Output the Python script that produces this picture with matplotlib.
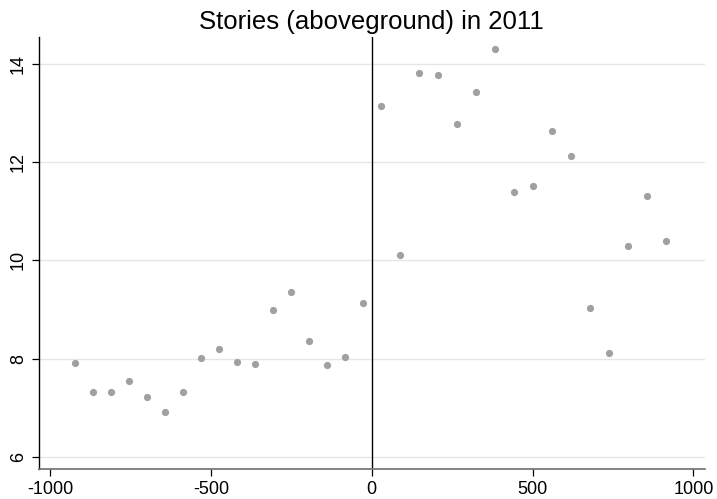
import matplotlib
matplotlib.use("Agg")
import matplotlib.pyplot as plt

plt.rcParams['font.family'] = ['Liberation Sans', 'DejaVu Sans']

# Binned means: distance (x) and average stories (y)
distance = [-922.6, -865.7, -809.7, -753.7, -698.7, -642.7, -586.7, -530.8,
            -474.8, -418.8, -363.8, -307.8, -251.9, -195.9, -139.9, -84.0,
            -28.0, 28.9, 88.0, 147.1, 206.2, 265.2, 324.3, 383.4, 442.5,
            501.6, 560.6, 619.7, 678.8, 737.9, 797.0, 856.0, 915.1]
stories = [7.906, 7.316, 7.316, 7.552, 7.220, 6.915, 7.316, 8.020,
           8.190, 7.926, 7.891, 8.996, 9.362, 8.365, 7.871, 8.034,
           9.126, 13.137, 10.108, 13.815, 13.768, 12.765, 13.416, 14.303, 11.389,
           11.511, 12.629, 12.115, 9.030, 8.109, 10.291, 11.307, 10.399]

x_ticks = [-1000, -500, 0, 500, 1000]
y_ticks = [6, 8, 10, 12, 14]

fig = plt.figure(figsize=(7.17, 4.99), dpi=100)
ax = fig.add_axes([0.054, 0.0607, 0.9288, 0.8652])

for yv in y_ticks:
    ax.axhline(yv, color='#e6e6e6', lw=1.0, zorder=0)

ax.plot(distance, stories, 'o', ms=5.2, color='#a0a0a0', mec='none', zorder=3)
ax.axvline(0, color='black', lw=1.0, zorder=2)

ax.set_xlim(-1035, 1035)
ax.set_ylim(5.763, 14.54)
ax.set_xticks(x_ticks)
ax.set_xticklabels([str(v) for v in x_ticks])
ax.set_yticks(y_ticks)
ax.set_yticklabels([str(v) for v in y_ticks], rotation=90, va='center')

for side in ('top', 'right'):
    ax.spines[side].set_visible(False)
ax.spines['left'].set_color('black')
ax.spines['left'].set_linewidth(1.0)
ax.spines['bottom'].set_color('#6e6e6e')
ax.spines['bottom'].set_linewidth(1.2)

ax.tick_params(axis='both', labelsize=13, length=5, width=0.9, color='black', pad=3.5)

ax.set_title('Stories (aboveground) in 2011', fontsize=18.5, pad=6)

fig.savefig('out.png', dpi=100)
